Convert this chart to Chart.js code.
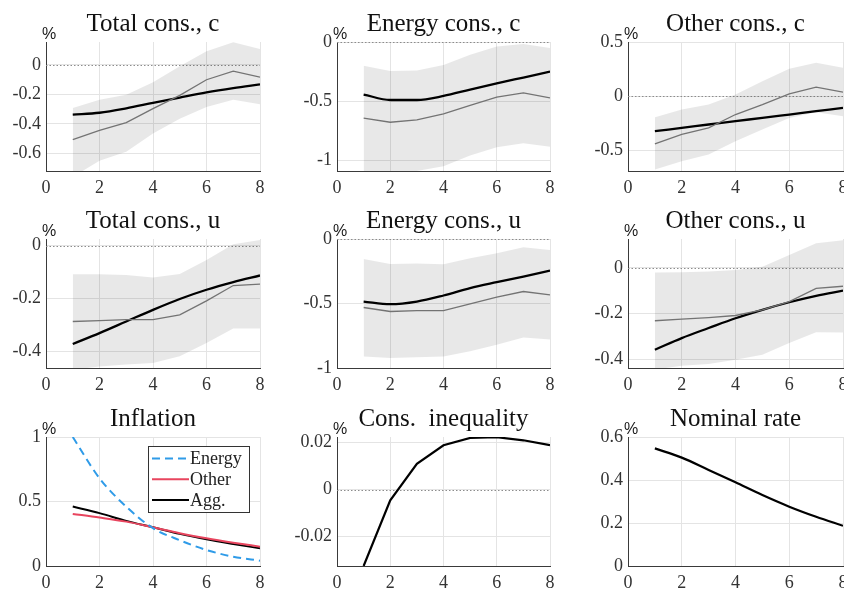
<!DOCTYPE html>
<html lang="en">
<head>
<meta charset="UTF-8">
<title>Impulse responses</title>
<script src="https://cdn.jsdelivr.net/npm/chart.js@4"></script>
<style>
    body { margin: 0; background: #ffffff; overflow: hidden; }
    #wrap { position: relative; width: 844px; height: 592px; overflow: hidden; }
    .cell { position: absolute; }
</style>
</head>
<body>
<div id="wrap"></div>
<script>
// horizon (quarters)
const horizon = [1, 2, 3, 4, 5, 6, 7, 8];
const xTicks = [0, 2, 4, 6, 8];

// Total cons., c
const totalC_model = [-0.338, -0.325, -0.295, -0.258, -0.222, -0.187, -0.158, -0.133];
const totalC_est   = [-0.507, -0.444, -0.392, -0.297, -0.207, -0.101, -0.043, -0.084];
const totalC_lo    = [-0.76, -0.651, -0.59, -0.466, -0.365, -0.286, -0.236, -0.268];
const totalC_hi    = [-0.293, -0.236, -0.203, -0.118, -0.01, 0.092, 0.153, 0.108];
const totalC_ticks = [-0.6, -0.4, -0.2, 0];

// Energy cons., c
const energyC_model = [-0.444, -0.49, -0.49, -0.456, -0.402, -0.35, -0.3, -0.25];
const energyC_est   = [-0.644, -0.678, -0.658, -0.607, -0.536, -0.465, -0.43, -0.473];
const energyC_lo    = [-1.13, -1.11, -1.09, -1.05, -0.96, -0.89, -0.855, -0.886];
const energyC_hi    = [-0.2, -0.245, -0.24, -0.194, -0.108, -0.037, -0.017, -0.05];
const energyC_ticks = [-1, -0.5, 0];

// Other cons., c
const otherC_model = [-0.323, -0.292, -0.261, -0.23, -0.2, -0.169, -0.138, -0.107];
const otherC_est   = [-0.439, -0.353, -0.292, -0.169, -0.077, 0.022, 0.083, 0.037];
const otherC_lo    = [-0.676, -0.6, -0.538, -0.415, -0.307, -0.2, -0.148, -0.185];
const otherC_hi    = [-0.194, -0.123, -0.077, 0.016, 0.138, 0.253, 0.308, 0.262];
const otherC_ticks = [-0.5, 0, 0.5];

// Total cons., u
const totalU_model = [-0.372, -0.331, -0.287, -0.243, -0.202, -0.167, -0.138, -0.113];
const totalU_est   = [-0.287, -0.284, -0.28, -0.28, -0.262, -0.209, -0.151, -0.146];
const totalU_lo    = [-0.47, -0.457, -0.45, -0.444, -0.419, -0.368, -0.314, -0.314];
const totalU_hi    = [-0.108, -0.108, -0.111, -0.121, -0.107, -0.054, 0.005, 0.021];
const totalU_ticks = [-0.4, -0.2, 0];

// Energy cons., u
const energyU_model = [-0.485, -0.505, -0.485, -0.438, -0.381, -0.335, -0.291, -0.245];
const energyU_est   = [-0.531, -0.562, -0.555, -0.555, -0.503, -0.451, -0.407, -0.433];
const energyU_lo    = [-0.91, -0.923, -0.917, -0.91, -0.871, -0.82, -0.763, -0.78];
const energyU_hi    = [-0.155, -0.193, -0.19, -0.196, -0.149, -0.111, -0.064, -0.085];
const energyU_ticks = [-1, -0.5, 0];

// Other cons., u
const otherU_model = [-0.358, -0.307, -0.263, -0.22, -0.183, -0.15, -0.122, -0.099];
const otherU_est   = [-0.231, -0.224, -0.217, -0.208, -0.183, -0.147, -0.089, -0.08];
const otherU_lo    = [-0.445, -0.428, -0.42, -0.402, -0.38, -0.329, -0.281, -0.282];
const otherU_hi    = [-0.02, -0.019, -0.015, -0.009, 0.006, 0.057, 0.108, 0.122];
const otherU_ticks = [-0.4, -0.2, 0];

// Inflation
const inflEnergy = [1.0, 0.68, 0.46, 0.293, 0.2, 0.124, 0.072, 0.041];
const inflOther  = [0.404, 0.376, 0.344, 0.3, 0.254, 0.215, 0.181, 0.15];
const inflAgg    = [0.461, 0.41, 0.35, 0.3, 0.249, 0.207, 0.171, 0.137];
const infl_ticks = [0, 0.5, 1];

// Cons. inequality
const consIneq = [-0.0325, -0.00455, 0.011, 0.0189, 0.022, 0.0223, 0.021, 0.0189];
const ineq_ticks = [-0.02, 0, 0.02];

// Nominal rate
const nomRate = [0.547, 0.504, 0.447, 0.389, 0.33, 0.276, 0.229, 0.187];
const rate_ticks = [0, 0.2, 0.4, 0.6];

const SERIF = '"Liberation Serif", "DejaVu Serif", serif';
const BAND = 'rgba(0,0,0,0.09)';
const GRAY = '#7f7f7f';

function pts(vals) {
    return horizon.map((h, i) => ({ x: h, y: vals[i] }));
}

function irfSets(model, est, lo, hi) {
    return [
        { data: pts(lo), borderWidth: 0, pointRadius: 0, fill: false },
        { data: pts(hi), borderWidth: 0, pointRadius: 0, fill: '-1', backgroundColor: BAND },
        { data: pts(est), borderColor: GRAY, borderWidth: 1.3, pointRadius: 0 },
        { data: pts(model), borderColor: '#000', borderWidth: 2.3, pointRadius: 0, cubicInterpolationMode: 'monotone' }
    ];
}

// titles, % label, dotted zero line and the legend box
const decoPlugin = {
    id: 'deco',
    beforeDatasetsDraw(chart) {
        const a = chart.chartArea, y = chart.scales.y;
        if (y.min < 0 && y.max >= 0) {
            const py = Math.round(y.getPixelForValue(0)) + 0.5;
            const c = chart.ctx;
            c.save();
            c.strokeStyle = '#8c8c8c';
            c.lineWidth = 1;
            c.setLineDash([1.5, 2]);
            c.beginPath(); c.moveTo(a.left, py); c.lineTo(a.right, py); c.stroke();
            c.restore();
        }
    },
    afterDraw(chart) {
        const o = chart.options.plugins.deco;
        const a = chart.chartArea, c = chart.ctx;
        c.save();
        c.fillStyle = '#111';
        c.font = '25px ' + SERIF;
        c.textAlign = 'center';
        c.textBaseline = 'alphabetic';
        c.fillText(o.title, (a.left + a.right) / 2, a.top - 11);
        c.font = '16px "Liberation Sans", Arial, sans-serif';
        c.fillStyle = '#1a1a1a';
        c.fillText('%', a.left + 3, a.top - 3);
        if (o.legend) {
            const bx = a.left + 102, by = a.top + 9, bw = 101, bh = 66;
            c.fillStyle = '#fff';
            c.fillRect(bx, by, bw, bh);
            c.strokeStyle = '#333';
            c.lineWidth = 1;
            c.strokeRect(bx + 0.5, by + 0.5, bw, bh);
            c.font = '18px ' + SERIF;
            c.textAlign = 'left';
            c.textBaseline = 'middle';
            chart.data.datasets.forEach((ds, i) => {
                const ry = by + 12.5 + i * 20.8;
                c.save();
                c.strokeStyle = ds.borderColor;
                c.lineWidth = ds.borderWidth;
                c.setLineDash(ds.borderDash || []);
                c.beginPath(); c.moveTo(bx + 4, ry); c.lineTo(bx + 41, ry); c.stroke();
                c.restore();
                c.fillStyle = '#222';
                c.fillText(ds.label, bx + 42, ry + 1);
            });
        }
        c.restore();
    }
};

function makePanel(p) {
    const W = 46 + p.w + 22, H = 42 + 129 + 30;
    const div = document.createElement('div');
    div.className = 'cell';
    div.style.left = (p.left - 46) + 'px';
    div.style.top = (p.top - 42) + 'px';
    const cv = document.createElement('canvas');
    cv.width = W; cv.height = H;
    cv.style.width = W + 'px'; cv.style.height = H + 'px';
    div.appendChild(cv);
    document.getElementById('wrap').appendChild(div);

    new Chart(cv.getContext('2d'), {
        type: 'line',
        data: { datasets: p.datasets },
        plugins: [decoPlugin],
        options: {
            responsive: false,
            devicePixelRatio: 1,
            animation: false,
            layout: { padding: { left: 0, top: 42, right: 22, bottom: 0 }, autoPadding: false },
            plugins: {
                legend: { display: false },
                tooltip: { enabled: false },
                deco: { title: p.title, legend: !!p.legend }
            },
            scales: {
                x: {
                    type: 'linear', min: 0, max: 8,
                    afterBuildTicks: s => { s.ticks = xTicks.map(v => ({ value: v })); },
                    afterFit: s => { s.height = 30; },
                    grid: { color: '#e4e4e4', drawTicks: false },
                    border: { color: '#3a3a3a', width: 1 },
                    ticks: { padding: 6, color: '#333', font: { family: SERIF, size: 18 }, maxRotation: 0 }
                },
                y: {
                    type: 'linear', min: p.min, max: p.max,
                    afterBuildTicks: s => { s.ticks = p.ticks.map(v => ({ value: v })); },
                    afterFit: s => { s.width = 46; },
                    grid: { color: '#e4e4e4', drawTicks: false },
                    border: { color: '#3a3a3a', width: 1 },
                    ticks: {
                        padding: 5, color: '#333', font: { family: SERIF, size: 18 },
                        callback: v => String(v)
                    }
                }
            }
        }
    });
}

const cols = [{ left: 46, w: 214 }, { left: 337, w: 213 }, { left: 628, w: 215 }];
const rows = [42, 239, 437];

makePanel({ ...cols[0], top: rows[0], title: 'Total cons., c', min: -0.72, max: 0.155, ticks: totalC_ticks,
    datasets: irfSets(totalC_model, totalC_est, totalC_lo, totalC_hi) });
makePanel({ ...cols[1], top: rows[0], title: 'Energy cons., c', min: -1.09, max: 0, ticks: energyC_ticks,
    datasets: irfSets(energyC_model, energyC_est, energyC_lo, energyC_hi) });
makePanel({ ...cols[2], top: rows[0], title: 'Other cons., c', min: -0.69, max: 0.5, ticks: otherC_ticks,
    datasets: irfSets(otherC_model, otherC_est, otherC_lo, otherC_hi) });

makePanel({ ...cols[0], top: rows[1], title: 'Total cons., u', min: -0.463, max: 0.025, ticks: totalU_ticks,
    datasets: irfSets(totalU_model, totalU_est, totalU_lo, totalU_hi) });
makePanel({ ...cols[1], top: rows[1], title: 'Energy cons., u', min: -1, max: 0, ticks: energyU_ticks,
    datasets: irfSets(energyU_model, energyU_est, energyU_lo, energyU_hi) });
makePanel({ ...cols[2], top: rows[1], title: 'Other cons., u', min: -0.438, max: 0.127, ticks: otherU_ticks,
    datasets: irfSets(otherU_model, otherU_est, otherU_lo, otherU_hi) });

makePanel({ ...cols[0], top: rows[2], title: 'Inflation', min: 0, max: 1, ticks: infl_ticks, legend: true,
    datasets: [
        { label: 'Energy', data: pts(inflEnergy), borderColor: '#2f9be8', borderWidth: 2, borderDash: [8, 5], pointRadius: 0, cubicInterpolationMode: 'monotone' },
        { label: 'Other', data: pts(inflOther), borderColor: '#e8455e', borderWidth: 2, pointRadius: 0, cubicInterpolationMode: 'monotone' },
        { label: 'Agg.', data: pts(inflAgg), borderColor: '#000', borderWidth: 2, pointRadius: 0, cubicInterpolationMode: 'monotone' }
    ] });
makePanel({ ...cols[1], top: rows[2], title: 'Cons.  inequality', min: -0.0325, max: 0.0224, ticks: ineq_ticks,
    datasets: [{ data: pts(consIneq), borderColor: '#000', borderWidth: 2.2, pointRadius: 0 }] });
makePanel({ ...cols[2], top: rows[2], title: 'Nominal rate', min: 0, max: 0.6, ticks: rate_ticks,
    datasets: [{ data: pts(nomRate), borderColor: '#000', borderWidth: 2.2, pointRadius: 0, cubicInterpolationMode: 'monotone' }] });
</script>
</body>
</html>
